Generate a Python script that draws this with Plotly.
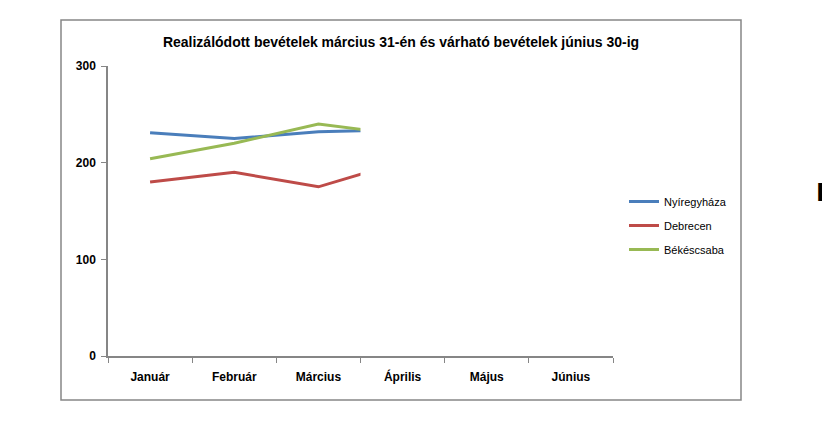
import plotly.graph_objects as go

months = ["Január", "Február", "Március", "Április", "Május", "Június"]
nyiregyhaza = [231, 225, 232, 234]
debrecen = [180, 190, 175, 201]
bekescsaba = [204, 220, 240, 229]
series_names = ["Nyíregyháza", "Debrecen", "Békéscsaba"]
series_colors = ["#4A7EBB", "#BE4B48", "#98B954"]
y_ticks = [0, 100, 200, 300]
title = "Realizálódott bevételek március 31-én és várható bevételek június 30-ig"

FONT = "Liberation Sans"

fig = go.Figure()
for name, vals, col in zip(series_names, [nyiregyhaza, debrecen, bekescsaba], series_colors):
    fig.add_trace(go.Scatter(
        x=months[:len(vals)], y=vals, name=name, mode="lines",
        legendgroup=name, line=dict(color=col, width=3),
    ))

# figure is placed with the page's 8px body margin; work in figure pixels
FW, FH = 822, 410
OFF = 8
L, R, T, B = 108 - OFF, 613 - OFF, 66 - OFF, 356 - OFF
W, H = R - L, B - T

def px(x):
    return (x - OFF - L) / W

def py(y):
    return (B - (y - OFF)) / H

shapes = [
    # white mask: the lines are only drawn up to the Március/Április boundary
    dict(type="rect", xref="x", yref="y", x0=2.5, x1=5.6, y0=1, y1=310,
         fillcolor="white", line=dict(width=0), layer="above"),
    # outer chart frame
    dict(type="rect", xref="paper", yref="paper",
         x0=px(61), x1=px(741), y0=py(400), y1=py(20),
         line=dict(color="#868686", width=1.5), fillcolor="rgba(0,0,0,0)"),
]

fig.update_layout(
    width=FW, height=FH,
    margin=dict(l=L, r=FW - R, t=T, b=FH - B, pad=0),
    paper_bgcolor="white", plot_bgcolor="white",
    font=dict(family=FONT, size=11, color="black"),
    title=dict(text="<b>" + title + "</b>", xref="paper", x=px(401),
               xanchor="center", yref="container",
               y=1 - (42 - OFF) / FH, yanchor="middle",
               font=dict(family=FONT, size=14, color="black")),
    showlegend=True,
    legend=dict(x=px(624), y=py(187), xanchor="left", yanchor="top",
                font=dict(family=FONT, size=11, color="black"),
                tracegroupgap=5, itemwidth=30, bgcolor="rgba(0,0,0,0)"),
    shapes=shapes,
    xaxis=dict(type="category", categoryorder="array", categoryarray=months,
               range=[-0.5, 5.5], tickmode="array", tickvals=months,
               ticktext=["<b>" + m + "</b>" for m in months],
               tickson="boundaries", ticks="outside", ticklen=5,
               ticklabelstandoff=9,
               tickcolor="#868686", showline=True, linecolor="#868686",
               linewidth=1.5, showgrid=False, zeroline=False,
               tickfont=dict(family=FONT, size=12, color="black")),
    yaxis=dict(range=[0, 300], tickmode="array", tickvals=y_ticks,
               ticktext=["<b>" + str(v) + "</b>" for v in y_ticks],
               ticks="outside", ticklen=5, tickcolor="#868686",
               ticklabelstandoff=3,
               showline=True, linecolor="#868686", linewidth=1.5,
               showgrid=False, zeroline=False,
               tickfont=dict(family=FONT, size=12, color="black")),
    annotations=[dict(text="<b>D</b>", xref="paper", yref="paper",
                      x=px(814), y=py(193), xanchor="left", yanchor="middle",
                      showarrow=False,
                      font=dict(family="DejaVu Sans", size=24, color="black"))],
)

fig.write_html("out.html")
